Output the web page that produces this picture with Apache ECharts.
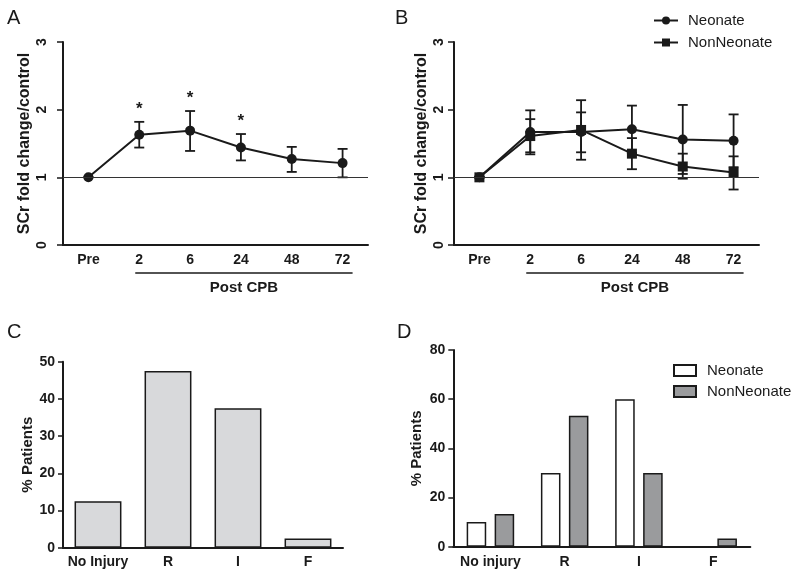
<!DOCTYPE html>
<html>
<head>
<meta charset="utf-8">
<script src="https://cdn.jsdelivr.net/npm/echarts@6/dist/echarts.min.js"></script>
<style>
html,body{margin:0;padding:0;background:#fff;}
#wrap{position:relative;width:800px;height:577px;}
.p{position:absolute;}
</style>
</head>
<body>
<div id="wrap">
  <div id="pa" class="p" style="left:0;top:0;width:390px;height:305px;"></div>
  <div id="pb" class="p" style="left:390px;top:0;width:410px;height:305px;"></div>
  <div id="pc" class="p" style="left:0;top:300px;width:390px;height:277px;"></div>
  <div id="pd" class="p" style="left:390px;top:300px;width:410px;height:277px;"></div>
</div>
<script>
// ---------- data ----------
const timeCats = ['Pre', '2', '6', '24', '48', '72'];
const yTicksAB = [0, 1, 2, 3];

const aMean = [1.00, 1.63, 1.69, 1.44, 1.27, 1.21];
const aHigh = [1.00, 1.82, 1.98, 1.64, 1.45, 1.42];
const aLow  = [1.00, 1.44, 1.39, 1.25, 1.08, 1.00];
const aStars = ['', '*', '*', '*', '', ''];

const bNeoMean = [1.00, 1.67, 1.67, 1.71, 1.56, 1.54];
const bNeoHigh = [1.00, 1.99, 2.14, 2.06, 2.07, 1.93];
const bNeoLow  = [1.00, 1.34, 1.26, 1.36, 1.05, 1.15];

const bNonMean = [1.00, 1.61, 1.70, 1.35, 1.16, 1.07];
const bNonHigh = [1.00, 1.86, 1.96, 1.58, 1.35, 1.31];
const bNonLow  = [1.00, 1.37, 1.37, 1.12, 0.98, 0.82];

const postLabel = 'Post CPB';
const postFrom = '2';
const postTo = '72';

const cCats = ['No Injury', 'R', 'I', 'F'];
const cValues = [12.5, 47.5, 37.5, 2.5];

const dCats = ['No injury', 'R', 'I', 'F'];
const dNeonate = [10, 30, 60, 0];
const dNonNeonate = [13.3, 53.3, 30, 3.3];

// ---------- styling helpers ----------
const FONT = '"Liberation Sans", Arial, Helvetica, sans-serif';
const INK = '#1a1a1a';

function letter(t, left, top) {
  return { text: t, left: left, top: top, padding: 0,
    textStyle: { fontFamily: FONT, fontSize: 20, fontWeight: 'normal', color: INK } };
}

function errSeries(high, low) {
  return {
    type: 'custom', silent: true, z: 3,
    data: timeCats.map((c, i) => [i, high[i], low[i]]),
    renderItem: function (params, api) {
      const i = api.value(0);
      const hi = api.coord([i, api.value(1)]);
      const lo = api.coord([i, api.value(2)]);
      const hw = 5;
      const st = { stroke: INK, lineWidth: 1.8 };
      return { type: 'group', children: [
        { type: 'line', shape: { x1: hi[0], y1: hi[1], x2: lo[0], y2: lo[1] }, style: st },
        { type: 'line', shape: { x1: hi[0] - hw, y1: hi[1], x2: hi[0] + hw, y2: hi[1] }, style: st },
        { type: 'line', shape: { x1: lo[0] - hw, y1: lo[1], x2: lo[0] + hw, y2: lo[1] }, style: st }
      ]};
    }
  };
}

function postSeries() {
  return {
    type: 'custom', silent: true, clip: false,
    data: [[timeCats.indexOf(postFrom), timeCats.indexOf(postTo)]],
    renderItem: function (params, api) {
      const a = api.coord([api.value(0), 0]);
      const b = api.coord([api.value(1), 0]);
      const x1 = a[0] - 4, x2 = b[0] + 10, y = a[1] + 28;
      return { type: 'group', children: [
        { type: 'line', shape: { x1: x1, y1: y, x2: x2, y2: y }, style: { stroke: INK, lineWidth: 1.5 } },
        { type: 'text', style: { text: postLabel, x: (x1 + x2) / 2, y: y + 7, align: 'center', verticalAlign: 'top',
          font: 'bold 15px ' + FONT, fill: INK } }
      ]};
    }
  };
}

function lineAxes(left, labelMargin, nameGap) {
  return {
    grid: { left: left, top: 42, width: 305, height: 203 },
    xAxis: {
      type: 'category', data: timeCats,
      axisLine: { lineStyle: { color: INK, width: 2 } },
      axisTick: { alignWithLabel: true, length: 5, lineStyle: { color: INK, width: 1.5 } },
      axisLabel: { interval: 0, margin: 8, fontFamily: FONT, fontSize: 14, fontWeight: 'bold', color: INK }
    },
    yAxis: {
      type: 'value', min: yTicksAB[0], max: yTicksAB[yTicksAB.length - 1], interval: 1,
      name: 'SCr fold change/control', nameLocation: 'middle', nameGap: nameGap, nameMoveOverlap: false,
      nameTextStyle: { fontFamily: FONT, fontSize: 16, fontWeight: 'bold', color: INK },
      axisLine: { show: true, lineStyle: { color: INK, width: 2 } },
      axisTick: { show: true, length: 6, lineStyle: { color: INK, width: 1.5 } },
      splitLine: { show: false },
      axisLabel: { rotate: 90, margin: labelMargin, fontFamily: FONT, fontSize: 14, fontWeight: 'bold', color: INK }
    }
  };
}

const refLine = {
  silent: true, symbol: ['none', 'none'], label: { show: false },
  lineStyle: { color: '#333', width: 1, type: 'solid' },
  data: [{ yAxis: 1 }]
};

// ---------- A ----------
const chA = echarts.init(document.getElementById('pa'), null, { renderer: 'canvas' });
const axA = lineAxes(63, 14, 30);
chA.setOption({
  animation: false,
  title: letter('A', 7, 8),
  grid: axA.grid, xAxis: axA.xAxis, yAxis: axA.yAxis,
  series: [
    { type: 'line', data: aMean, symbol: 'circle', symbolSize: 10, z: 4,
      lineStyle: { color: INK, width: 2 }, itemStyle: { color: INK },
      markLine: refLine },
    errSeries(aHigh, aLow),
    { type: 'custom', silent: true,
      data: timeCats.map((c, i) => [i, aHigh[i], aStars[i]]).filter(d => d[2]),
      renderItem: function (params, api) {
        const p = api.coord([api.value(0), api.value(1)]);
        return { type: 'text', style: { text: '*', x: p[0], y: p[1] - 4, align: 'center', verticalAlign: 'bottom',
          font: 'bold 17px ' + FONT, fill: INK } };
      }
    },
    postSeries()
  ]
});

// ---------- B ----------
const chB = echarts.init(document.getElementById('pb'), null, { renderer: 'canvas' });
const axB = lineAxes(64, 8, 24);
chB.setOption({
  animation: false,
  title: letter('B', 5, 8),
  legend: {
    orient: 'vertical', left: 263, top: 13, padding: 0, itemWidth: 24, itemHeight: 10, itemGap: 7,
    textStyle: { fontFamily: FONT, fontSize: 15, color: INK, padding: [0, 0, 0, 5] },
    data: ['Neonate', 'NonNeonate']
  },
  grid: axB.grid, xAxis: axB.xAxis, yAxis: axB.yAxis,
  series: [
    { name: 'Neonate', type: 'line', data: bNeoMean, symbol: 'circle', symbolSize: 10, z: 4,
      lineStyle: { color: INK, width: 2 }, itemStyle: { color: INK },
      markLine: refLine },
    { name: 'NonNeonate', type: 'line', data: bNonMean, symbol: 'rect', symbolSize: 10, z: 4,
      lineStyle: { color: INK, width: 2 }, itemStyle: { color: INK } },
    errSeries(bNeoHigh, bNeoLow),
    errSeries(bNonHigh, bNonLow),
    postSeries()
  ]
});

// ---------- C ----------
const chC = echarts.init(document.getElementById('pc'), null, { renderer: 'canvas' });
chC.setOption({
  animation: false,
  title: letter('C', 7, 22),
  grid: { left: 63, top: 61.7, width: 280, height: 186 },
  xAxis: {
    type: 'category', data: cCats,
    axisLine: { lineStyle: { color: INK, width: 2 } },
    axisTick: { alignWithLabel: true, length: 5, lineStyle: { color: INK, width: 1.5 } },
    axisLabel: { interval: 0, margin: 7, fontFamily: FONT, fontSize: 14, fontWeight: 'bold', color: INK }
  },
  yAxis: {
    type: 'value', min: 0, max: 50, interval: 10,
    name: '% Patients', nameLocation: 'middle', nameGap: 28, nameMoveOverlap: false,
    nameTextStyle: { fontFamily: FONT, fontSize: 15, fontWeight: 'bold', color: INK },
    axisLine: { show: true, lineStyle: { color: INK, width: 2 } },
    axisTick: { show: true, length: 5, lineStyle: { color: INK, width: 1.5 } },
    splitLine: { show: false },
    axisLabel: { margin: 8, fontFamily: FONT, fontSize: 14, fontWeight: 'bold', color: INK }
  },
  series: [
    { type: 'bar', data: cValues, barCategoryGap: '33%',
      itemStyle: { color: '#d8d9db', borderColor: INK, borderWidth: 1.5 } }
  ]
});

// ---------- D ----------
const chD = echarts.init(document.getElementById('pd'), null, { renderer: 'canvas' });
chD.setOption({
  animation: false,
  title: letter('D', 7, 22),
  legend: {
    orient: 'vertical', left: 283, top: 63, padding: 0, itemWidth: 22, itemHeight: 11, itemGap: 6,
    icon: 'rect',
    textStyle: { fontFamily: FONT, fontSize: 15, color: INK, padding: [0, 0, 0, 6] },
    data: ['Neonate', 'NonNeonate']
  },
  grid: { left: 63.3, top: 50, width: 297, height: 196.7 },
  xAxis: {
    type: 'category', data: dCats,
    axisLine: { lineStyle: { color: INK, width: 2 } },
    axisTick: { alignWithLabel: true, length: 5, lineStyle: { color: INK, width: 1.5 } },
    axisLabel: { interval: 0, margin: 8, fontFamily: FONT, fontSize: 14, fontWeight: 'bold', color: INK }
  },
  yAxis: {
    type: 'value', min: 0, max: 80, interval: 20,
    name: '% Patients', nameLocation: 'middle', nameGap: 29, nameMoveOverlap: false,
    nameTextStyle: { fontFamily: FONT, fontSize: 15, fontWeight: 'bold', color: INK },
    axisLine: { show: true, lineStyle: { color: INK, width: 2 } },
    axisTick: { show: true, length: 5, lineStyle: { color: INK, width: 1.5 } },
    splitLine: { show: false },
    axisLabel: { margin: 8, fontFamily: FONT, fontSize: 14, fontWeight: 'bold', color: INK }
  },
  series: [
    { name: 'Neonate', type: 'bar', data: dNeonate, barGap: '43%', barCategoryGap: '36%',
      itemStyle: { color: '#ffffff', borderColor: INK, borderWidth: 1.5 } },
    { name: 'NonNeonate', type: 'bar', data: dNonNeonate, barGap: '43%', barCategoryGap: '36%',
      itemStyle: { color: '#9a9b9d', borderColor: INK, borderWidth: 1.5 } }
  ]
});
</script>
</body>
</html>
